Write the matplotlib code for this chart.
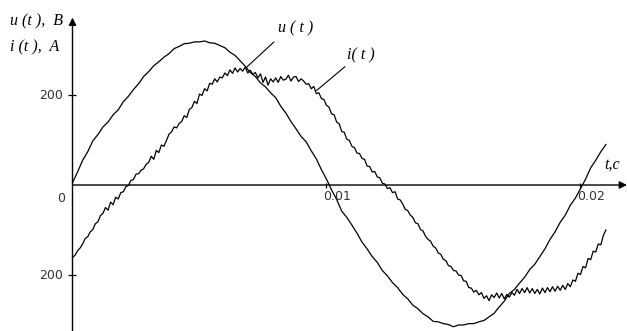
import numpy as np
import matplotlib
matplotlib.use("Agg")
import matplotlib.pyplot as plt

# sampled waveforms, time in ms
t_u = np.arange(0, 21.01, 0.2)
u_vals = [5, 29, 55, 74, 98, 112, 129, 140, 156, 167,
          185, 197, 212, 225, 241, 252, 265, 274, 284, 292,
          303, 308, 314, 315, 318, 318, 320, 316, 315, 310,
          305, 295, 288, 276, 264, 250, 241, 227, 218, 205,
          194, 175, 160, 141, 125, 108, 96, 76, 58, 34,
          13, -11, -32, -58, -72, -89, -107, -127, -142, -159,
          -172, -190, -202, -217, -228, -243, -253, -267, -275, -286,
          -293, -303, -304, -308, -310, -315, -311, -311, -308, -308,
          -304, -301, -293, -285, -271, -258, -241, -232, -218, -205,
          -188, -176, -159, -142, -121, -104, -83, -67, -45, -29,
          -8, 13, 38, 55, 74, 90]

t_i = np.arange(0, 21.01, 0.1)
i_vals = [-161, -156, -146, -140, -131, -119, -115, -104, -99, -86,
          -82, -68, -63, -50, -56, -38, -44, -27, -31, -17,
          -15, -4, -1, 10, 12, 24, 25, 33, 36, 46,
          50, 64, 57, 77, 72, 89, 86, 99, 113, 118,
          129, 127, 137, 141, 154, 150, 168, 172, 186, 181,
          202, 199, 214, 209, 226, 224, 236, 229, 240, 238,
          249, 243, 256, 248, 260, 251, 259, 253, 262, 249,
          255, 246, 250, 238, 247, 228, 240, 222, 236, 229,
          238, 228, 241, 233, 235, 244, 231, 240, 241, 230,
          236, 231, 224, 225, 214, 219, 203, 205, 192, 190,
          177, 173, 158, 156, 140, 136, 119, 117, 102, 99,
          86, 83, 71, 70, 59, 57, 42, 41, 29, 30,
          18, 16, 4, 2, -8, -6, -17, -15, -31, -33,
          -42, -54, -57, -67, -72, -84, -86, -99, -102, -114,
          -121, -125, -136, -140, -151, -154, -165, -168, -179, -181,
          -190, -191, -200, -201, -213, -214, -228, -229, -238, -234,
          -244, -239, -252, -246, -257, -244, -250, -240, -251, -241,
          -253, -243, -249, -239, -245, -232, -241, -230, -239, -228,
          -240, -230, -241, -232, -242, -229, -239, -228, -237, -226,
          -236, -225, -234, -223, -232, -219, -226, -211, -214, -196,
          -199, -181, -184, -163, -166, -147, -149, -131, -133, -112,
          -100]

x_ticks = [0.01, 0.02]
x_tick_labels = ["0.01", "0.02"]
y_ticks = [200, -200]
y_tick_labels = ["200", "200"]

fig = plt.figure(figsize=(6.27, 3.31), dpi=100)
ax = fig.add_axes([0, 0, 1, 1])
ax.set_xlim(-0.002854, 0.021831)
ax.set_ylim(-324.4, 411.1)

ax.plot(t_u / 1000, u_vals, color='black', lw=0.9)
ax.plot(t_i / 1000, i_vals, color='black', lw=0.9)

# axes drawn as arrows through the origin
for s in ['top', 'right']:
    ax.spines[s].set_visible(False)
ax.spines['left'].set_position(('data', 0))
ax.spines['bottom'].set_position(('data', 0))
ax.spines['left'].set_visible(False)
ax.spines['bottom'].set_visible(False)
ax.annotate('', xy=(0, 372), xytext=(0, -330),
            arrowprops=dict(arrowstyle='-|>', lw=1.0, color='black',
                            mutation_scale=11, shrinkA=0, shrinkB=0))
ax.annotate('', xy=(0.02183, 0), xytext=(0, 0),
            arrowprops=dict(arrowstyle='-|>', lw=1.0, color='black',
                            mutation_scale=11, shrinkA=0, shrinkB=0))

ax.set_xticks(x_ticks)
ax.set_yticks(y_ticks)
ax.tick_params(axis='x', direction='inout', length=3.6, width=0.9,
               labelbottom=False)
ax.tick_params(axis='y', direction='inout', length=5.8, width=0.9,
               labelleft=False)

lab_kw = dict(textcoords='offset pixels', fontsize=9, color='#333333',
              family='DejaVu Sans')
for tv, lab in zip(x_ticks, x_tick_labels):
    ax.annotate(lab, xy=(tv, 0), xytext=(-3, -5), ha='left', va='top', **lab_kw)
for tv, lab in zip(y_ticks, y_tick_labels):
    ax.annotate(lab, xy=(0, tv), xytext=(-9, 0), ha='right', va='center', **lab_kw)
ax.annotate("0", xy=(0, 0), xytext=(-7, -7), ha='right', va='top', **lab_kw)

# axis titles
serif = dict(family='Liberation Serif', style='italic', fontsize=11.5)
ax.text(-0.00246, 364, "u (t ),  B", ha='left', va='center', **serif)
ax.text(-0.00246, 305, "i (t ),  A", ha='left', va='center', **serif)
ax.text(0.02095, 27, "t,c", ha='left', va='bottom', **serif)

# curve labels with leader lines
ax.annotate('', xy=(0.00686, 262), xytext=(0.007933, 318),
            arrowprops=dict(arrowstyle='-', lw=0.8, color='black',
                            shrinkA=0, shrinkB=0))
ax.text(0.0088, 347, "u ( t )", ha='center', va='center', **serif)
ax.annotate('', xy=(0.00961, 210), xytext=(0.010728, 263),
            arrowprops=dict(arrowstyle='-', lw=0.8, color='black',
                            shrinkA=0, shrinkB=0))
ax.text(0.01136, 289, "i( t )", ha='center', va='center', **serif)

fig.savefig("out.png", dpi=100)
